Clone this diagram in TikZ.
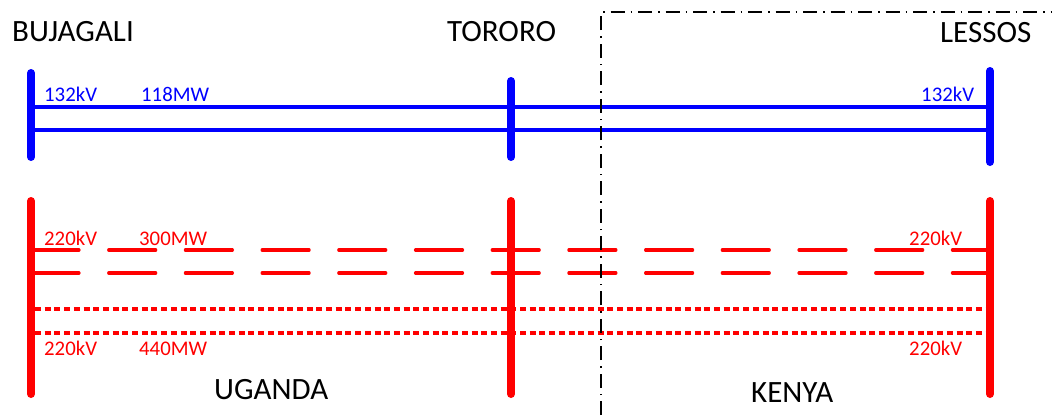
\documentclass[tikz,border=0pt]{standalone}
\usepackage{fontspec}
\setmainfont{Carlito}
\begin{document}
\begin{tikzpicture}[x=1pt,y=-1pt,
  bus132/.style={draw=blue,line width=8pt,line cap=round},
  bus220/.style={draw=red,line width=8pt,line cap=round},
  line132/.style={draw=blue,line width=3.2pt},
  line220a/.style={draw=red,line width=3.2pt,line cap=round,dash pattern=on 47pt off 29.7pt},
  line220b/.style={draw=red,line width=3.2pt,dash pattern=on 6pt off 3.7pt},
  border/.style={draw=black,line width=1.1pt,dash pattern=on 14pt off 6pt on 1.5pt off 6pt},
  station/.style={font=\fontsize{31}{34}\selectfont,inner sep=0pt,anchor=base west},
  country/.style={font=\fontsize{31}{34}\selectfont,inner sep=0pt,anchor=base west},
  bluelbl/.style={font=\fontsize{20.8}{24}\selectfont,text=blue,inner sep=0pt,anchor=base west},
  redlbl/.style={font=\fontsize{20.8}{24}\selectfont,text=red,inner sep=0pt,anchor=base west}]
\useasboundingbox (0,0) rectangle (1052,415);

% station names
\node[station] (nBuj) at (12,41) {BUJAGALI};
\node[station] (nTor) at (447,41) {TORORO};
\node[station] (nLes) at (940,42) {LESSOS};

% country names
\node[country] (nUga) at (214,399) {UGANDA};
\node[country] (nKen) at (751,402) {KENYA};

% 132 kV bus ends
\coordinate (bjT) at (31,73);  \coordinate (bjB) at (31,157);
\coordinate (trT) at (511,81); \coordinate (trB) at (511,157);
\coordinate (lsT) at (990,71); \coordinate (lsB) at (990,162);
% 220 kV bus ends
\coordinate (bjT2) at (31,201);  \coordinate (bjB2) at (31,394);
\coordinate (trT2) at (511,201); \coordinate (trB2) at (511,394);
\coordinate (lsT2) at (990,201); \coordinate (lsB2) at (990,394);

% line terminals
\coordinate (bjA) at (31,107); \coordinate (lsA) at (990,107);
\coordinate (bjC) at (31,130); \coordinate (lsC) at (990,130);
\coordinate (bjD) at (32,250); \coordinate (lsD) at (990,250);
\coordinate (bjE) at (32,273); \coordinate (lsE) at (990,273);
\coordinate (bjF) at (35,309); \coordinate (lsF) at (990,309);
\coordinate (bjG) at (35,333); \coordinate (lsG) at (990,333);

% 132 kV double circuit
\draw[line132] (bjA) -- (lsA);
\draw[line132] (bjC) -- (lsC);
% 220 kV circuits
\draw[line220a] (bjD) -- (lsD);
\draw[line220a] (bjE) -- (lsE);
\draw[line220b] (bjF) -- (lsF);
\draw[line220b] (bjG) -- (lsG);

% busbars
\draw[bus132] (bjT) -- (bjB);
\draw[bus132] (trT) -- (trB);
\draw[bus132] (lsT) -- (lsB);
\draw[bus220] (bjT2) -- (bjB2);
\draw[bus220] (trT2) -- (trB2);
\draw[bus220] (lsT2) -- (lsB2);

% border between the two countries
\coordinate (brBot) at (601,415);
\coordinate (brCor) at (601,12);
\coordinate (brEnd) at (1052,12);
\draw[border] (brBot) -- (brCor) -- (brEnd);

% ratings
\node[bluelbl] (l1) at (44,101) {132kV};
\node[bluelbl] (l2) at (141,101) {118MW};
\node[bluelbl] (l3) at (921,101) {132kV};
\node[redlbl] (l4) at (44,245) {220kV};
\node[redlbl] (l5) at (139,245) {300MW};
\node[redlbl] (l6) at (909,245) {220kV};
\node[redlbl] (l7) at (44,355) {220kV};
\node[redlbl] (l8) at (139,355) {440MW};
\node[redlbl] (l9) at (909,355) {220kV};
\end{tikzpicture}
\end{document}
